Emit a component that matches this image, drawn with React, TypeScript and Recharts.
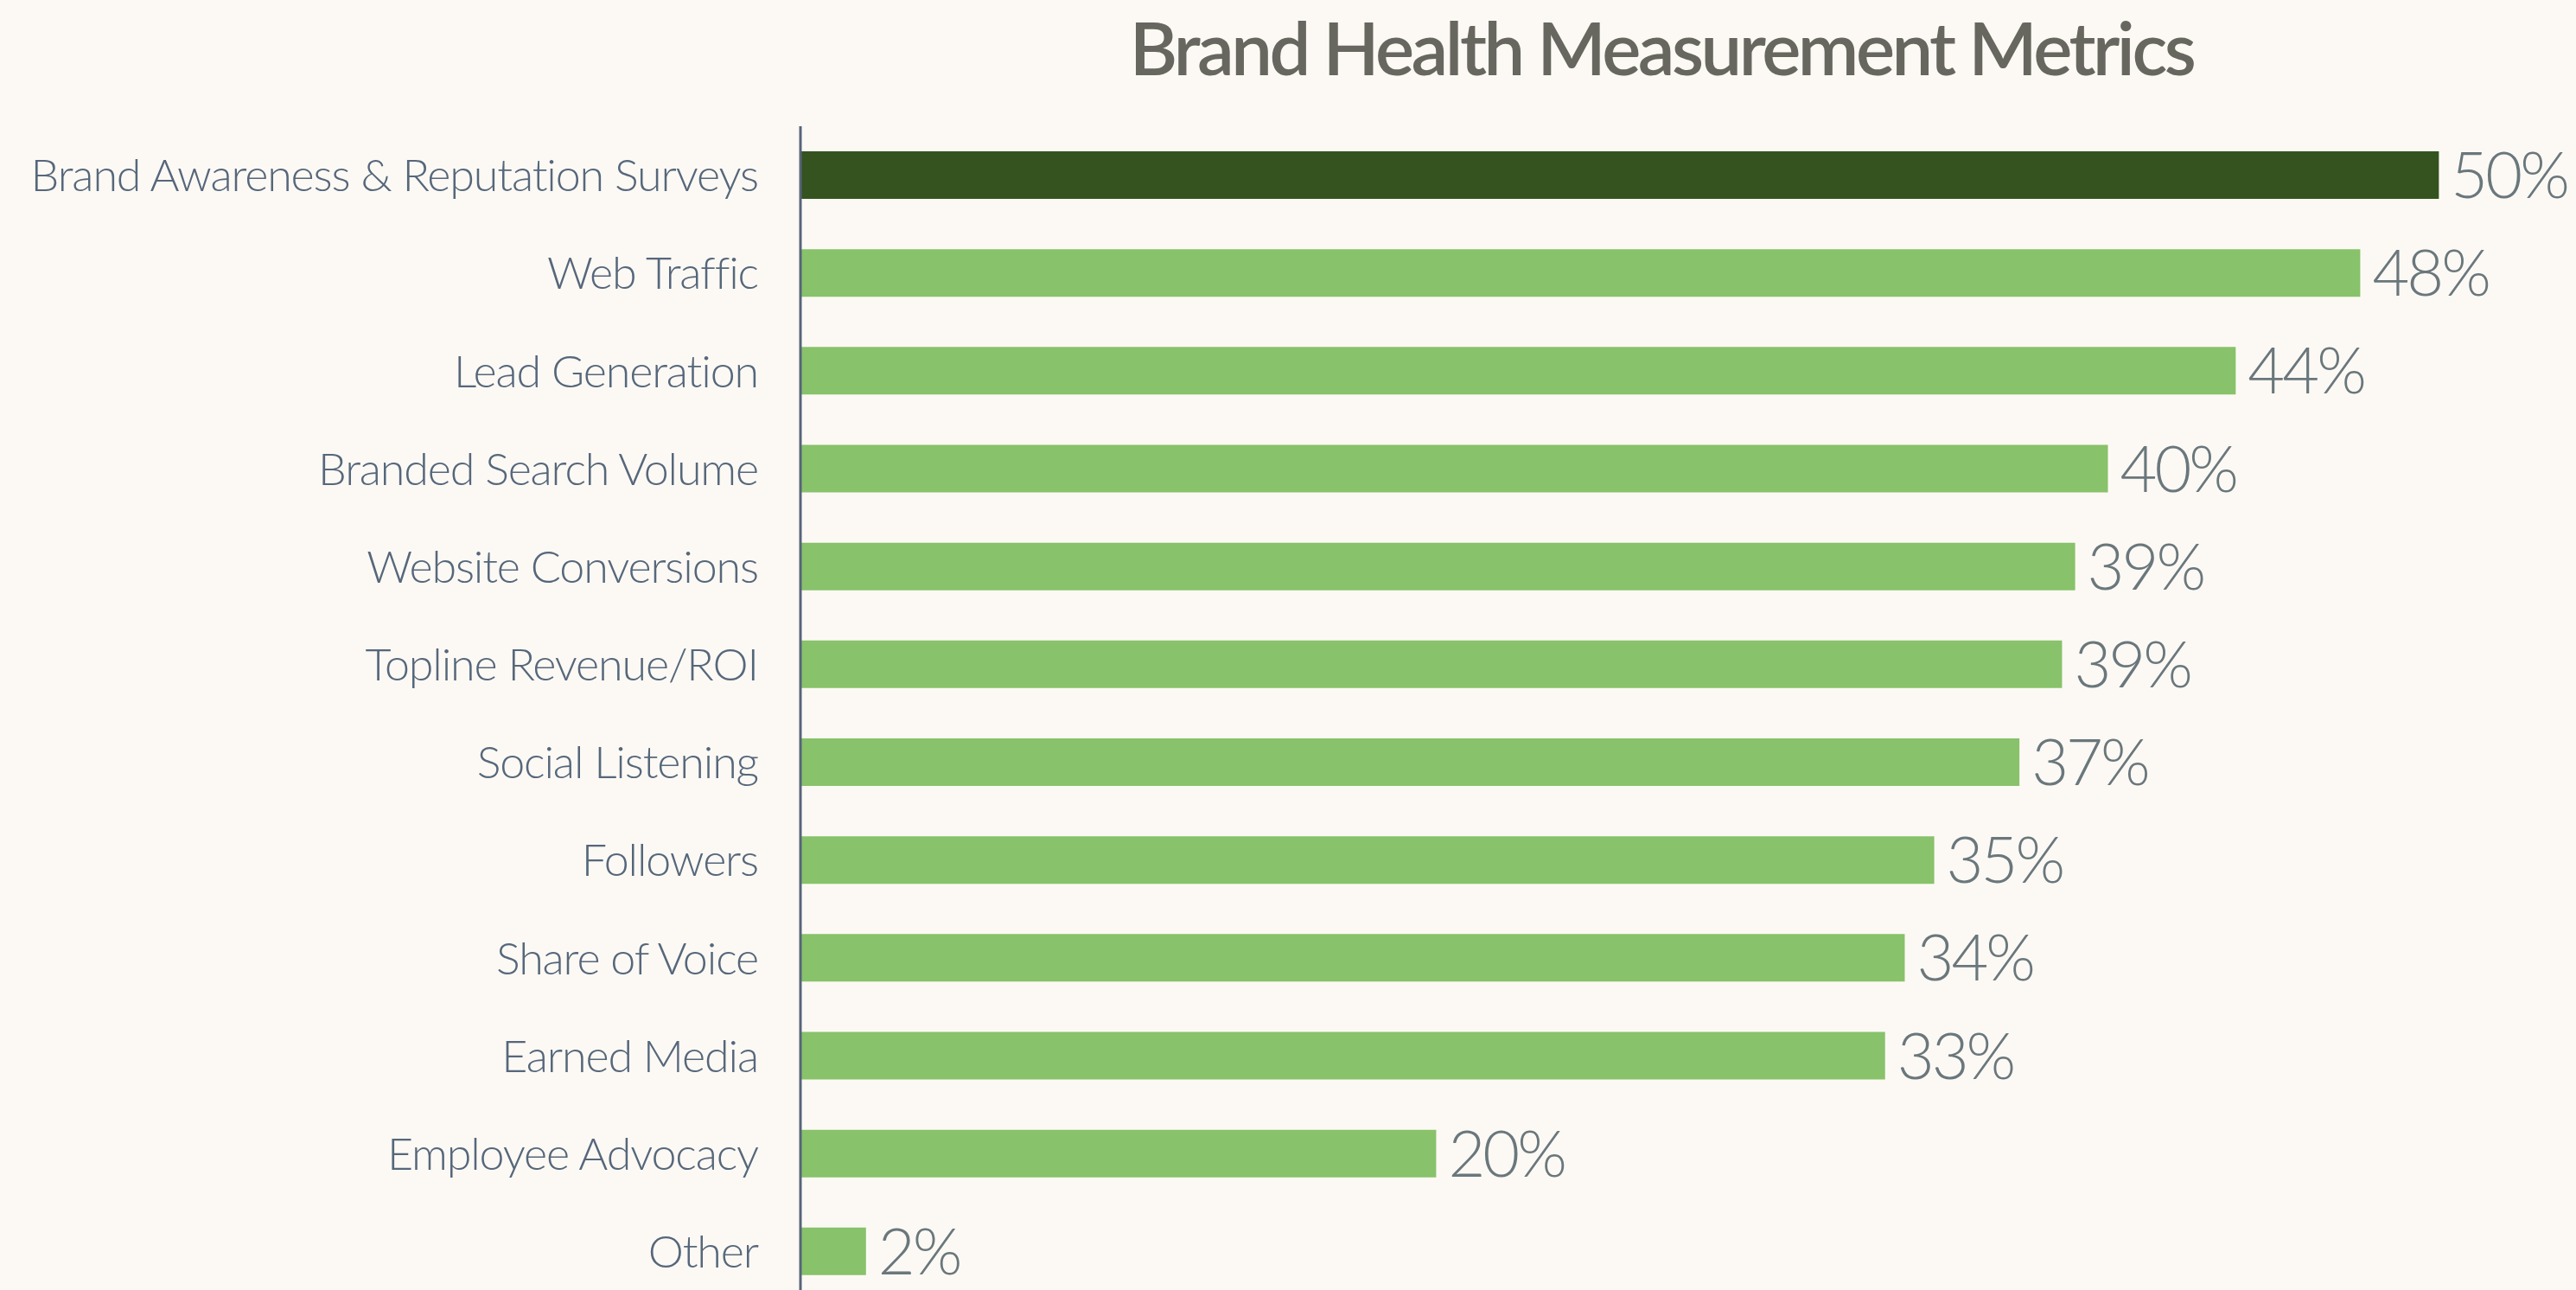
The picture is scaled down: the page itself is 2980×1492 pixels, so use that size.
import React from 'react';
import { BarChart, Bar, XAxis, YAxis, Cell, LabelList } from 'recharts';

const categories = [
  'Brand Awareness & Reputation Surveys',
  'Web Traffic',
  'Lead Generation',
  'Branded Search Volume',
  'Website Conversions',
  'Topline Revenue/ROI',
  'Social Listening',
  'Followers',
  'Share of Voice',
  'Earned Media',
  'Employee Advocacy',
  'Other',
];
const values = [50, 47.6, 43.8, 39.9, 38.9, 38.5, 37.2, 34.6, 33.7, 33.1, 19.4, 2];
const valueLabels = ['50%', '48%', '44%', '40%', '39%', '39%', '37%', '35%', '34%', '33%', '20%', '2%'];
const highlightIndex = 0;

const data = categories.map((name, i) => ({ name, value: values[i], label: valueLabels[i] }));

const BG = '#FCF9F4';
const DARK = '#34531F';
const LIGHT = '#88C26A';
const LABEL = '#56677B';
const VALUE = '#6A777C';
const TITLE = '#67675F';
const FONT = 'Lato, "Noto Sans", sans-serif';

const CategoryTick = (props: any) => {
  const { x, y, payload } = props;
  return (
    <text
      x={x}
      y={y}
      dy="0.36em"
      textAnchor="end"
      fill={LABEL}
      fontFamily={FONT}
      fontWeight={300}
      fontSize={52}
      letterSpacing={-1.15}
    >
      {payload.value}
    </text>
  );
};

const ValueLabel = (props: any) => {
  const { x, y, width, height, index } = props;
  return (
    <text
      x={x + width + 14}
      y={y + height / 2}
      dy="0.36em"
      textAnchor="start"
      fill={VALUE}
      fontFamily={FONT}
      fontWeight={300}
      fontSize={74}
      letterSpacing={-3}
    >
      {valueLabels[index]}
    </text>
  );
};

export default function App() {
  return (
    <div
      style={{
        position: 'fixed',
        left: 0,
        top: 0,
        width: 2980,
        height: 1492,
        overflow: 'hidden',
        background: BG,
      }}
    >
      <div
        style={{
          position: 'absolute',
          left: 1122,
          top: 4,
          width: 1600,
          textAlign: 'center',
          fontFamily: FONT,
          fontWeight: 600,
          fontSize: 85,
          letterSpacing: -3.5,
          color: TITLE,
          lineHeight: '100px',
        }}
      >
        Brand Health Measurement Metrics
      </div>
      <div style={{ position: 'absolute', left: 0, top: 0 }}>
        <BarChart
          width={2980}
          height={1504}
          data={data}
          layout="vertical"
          margin={{ top: 146, right: 7, bottom: 0, left: 0 }}
        >
          <XAxis type="number" domain={[0, 54]} hide />
          <YAxis
            type="category"
            dataKey="name"
            width={926}
            tickLine={false}
            tickSize={0}
            tickMargin={49}
            axisLine={{ stroke: '#56657A', strokeWidth: 3 }}
            tick={<CategoryTick />}
            interval={0}
          />
          <Bar dataKey="value" barSize={55} isAnimationActive={false}>
            {data.map((d, i) => (
              <Cell key={d.name} fill={i === highlightIndex ? DARK : LIGHT} />
            ))}
            <LabelList dataKey="label" content={<ValueLabel />} />
          </Bar>
        </BarChart>
      </div>
    </div>
  );
}
